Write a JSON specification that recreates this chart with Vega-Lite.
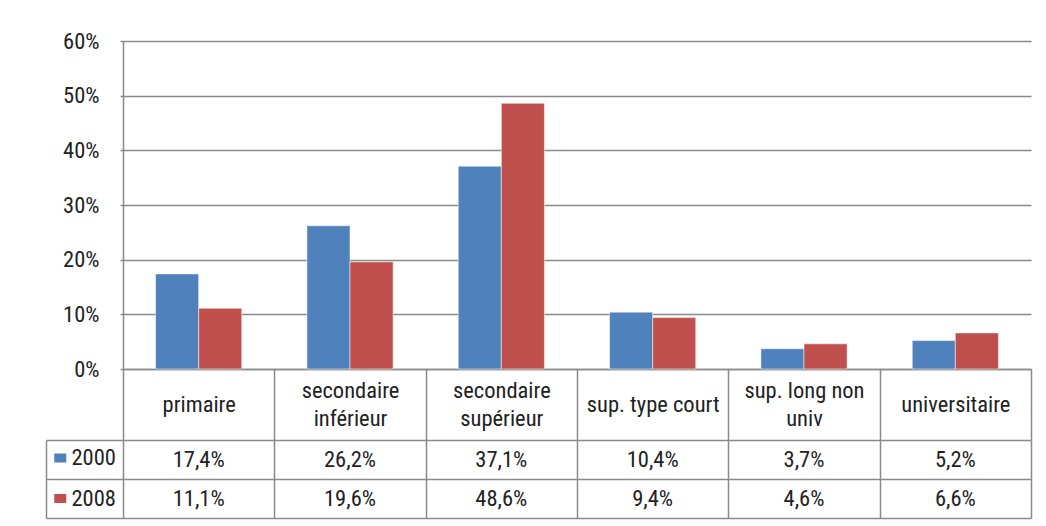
{
  "$schema": "https://vega.github.io/schema/vega-lite/v6.json",
  "autosize": {"type": "none"},
  "padding": {"left": 123, "top": 41, "right": 15, "bottom": 485},
  "bounds": "flush",
  "spacing": 71,
  "config": {
    "locale": {"number": {"decimal": ",", "thousands": ".", "grouping": [3], "currency": ["", " €"]}},
    "font": "Roboto Condensed",
    "view": {"stroke": null},
    "axis": {
      "labelFont": "Roboto Condensed",
      "labelFontSize": 22.5,
      "labelFontWeight": 400,
      "labelColor": "#222222",
      "domainColor": "#8a8a8a",
      "tickColor": "#8a8a8a",
      "gridColor": "#8a8a8a",
      "domainWidth": 1.5,
      "tickWidth": 1.5,
      "gridWidth": 1.5,
      "gridOpacity": 1
    }
  },
  "datasets": {
    "d": [
      {"cat": "primaire", "series": "2000", "value": 0.174},
      {"cat": "primaire", "series": "2008", "value": 0.111},
      {"cat": "secondaire inférieur", "series": "2000", "value": 0.262},
      {"cat": "secondaire inférieur", "series": "2008", "value": 0.196},
      {"cat": "secondaire supérieur", "series": "2000", "value": 0.371},
      {"cat": "secondaire supérieur", "series": "2008", "value": 0.486},
      {"cat": "sup. type court", "series": "2000", "value": 0.104},
      {"cat": "sup. type court", "series": "2008", "value": 0.094},
      {"cat": "sup. long non univ", "series": "2000", "value": 0.037},
      {"cat": "sup. long non univ", "series": "2008", "value": 0.046},
      {"cat": "universitaire", "series": "2000", "value": 0.052},
      {"cat": "universitaire", "series": "2008", "value": 0.066}
    ]
  },
  "resolve": {"scale": {"color": "independent"}, "legend": {"color": "independent"}},
  "vconcat": [
    {
      "width": 908,
      "height": 328,
      "data": {"name": "d"},
      "mark": {"type": "bar", "stroke": "#ffffff", "strokeOpacity": 0.5, "strokeWidth": 1},
      "encoding": {
        "x": {
          "field": "cat", "type": "nominal", "sort": null,
          "scale": {"type": "band", "paddingInner": 0, "paddingOuter": 0},
          "axis": {
            "title": null, "labelAngle": 0, "tickBand": "extent", "tickSize": 71,
            "labelPadding": {"condition": {"test": "datum.value == 'secondaire inférieur' || datum.value == 'secondaire supérieur' || datum.value == 'sup. long non univ'", "value": -50}, "value": -36},
            "labelBaseline": "middle", "labelLineHeight": 28, "labelLimit": 200,
            "labelExpr": "datum.label == 'secondaire inférieur' ? ['secondaire', 'inférieur'] : datum.label == 'secondaire supérieur' ? ['secondaire', 'supérieur'] : datum.label == 'sup. long non univ' ? ['sup. long non', 'univ'] : datum.label"
          }
        },
        "xOffset": {"field": "series", "type": "nominal", "scale": {"paddingInner": 0, "paddingOuter": 0.756}},
        "y": {
          "field": "value", "type": "quantitative",
          "scale": {"domain": [0, 0.6], "nice": false},
          "axis": {"title": null, "values": [0, 0.1, 0.2, 0.3, 0.4, 0.5, 0.6], "format": ".0%", "tickSize": 3, "labelPadding": 21, "grid": true}
        },
        "color": {
          "field": "series", "type": "nominal",
          "scale": {"domain": ["2000", "2008"], "range": ["#4F81BD", "#C0504D"]},
          "legend": {
            "orient": "none", "legendX": -74, "legendY": 405.75, "title": null, "direction": "vertical",
            "symbolType": "M-1,-0.75H1V0.75H-1Z", "symbolSize": 144, "symbolStrokeWidth": 0,
            "labelFont": "Roboto Condensed", "labelFontSize": 22.5, "labelFontWeight": 400, "labelColor": "#222222",
            "labelOffset": 0, "rowPadding": 17.5, "padding": 0
          }
        }
      }
    },
    {
      "width": 908,
      "height": 78,
      "data": {"name": "d"},
      "mark": {"type": "text", "fontSize": 22.5, "font": "Roboto Condensed", "fontWeight": 400, "color": "#222222"},
      "encoding": {
        "x": {
          "field": "cat", "type": "nominal", "sort": null,
          "scale": {"type": "band", "paddingInner": 0, "paddingOuter": 0},
          "axis": {"title": null, "orient": "top", "labels": false, "ticks": false, "domain": false, "grid": true, "tickBand": "extent"}
        },
        "y": {
          "field": "series", "type": "nominal",
          "scale": {"type": "band", "domain": ["2000", "2008"], "paddingInner": 0, "paddingOuter": 0},
          "axis": {"title": null, "labels": false, "domain": true, "offset": 77, "ticks": true, "tickSize": -77, "tickBand": "extent", "grid": true}
        },
        "text": {"field": "value", "type": "quantitative", "format": ".1%"}
      }
    }
  ]
}
